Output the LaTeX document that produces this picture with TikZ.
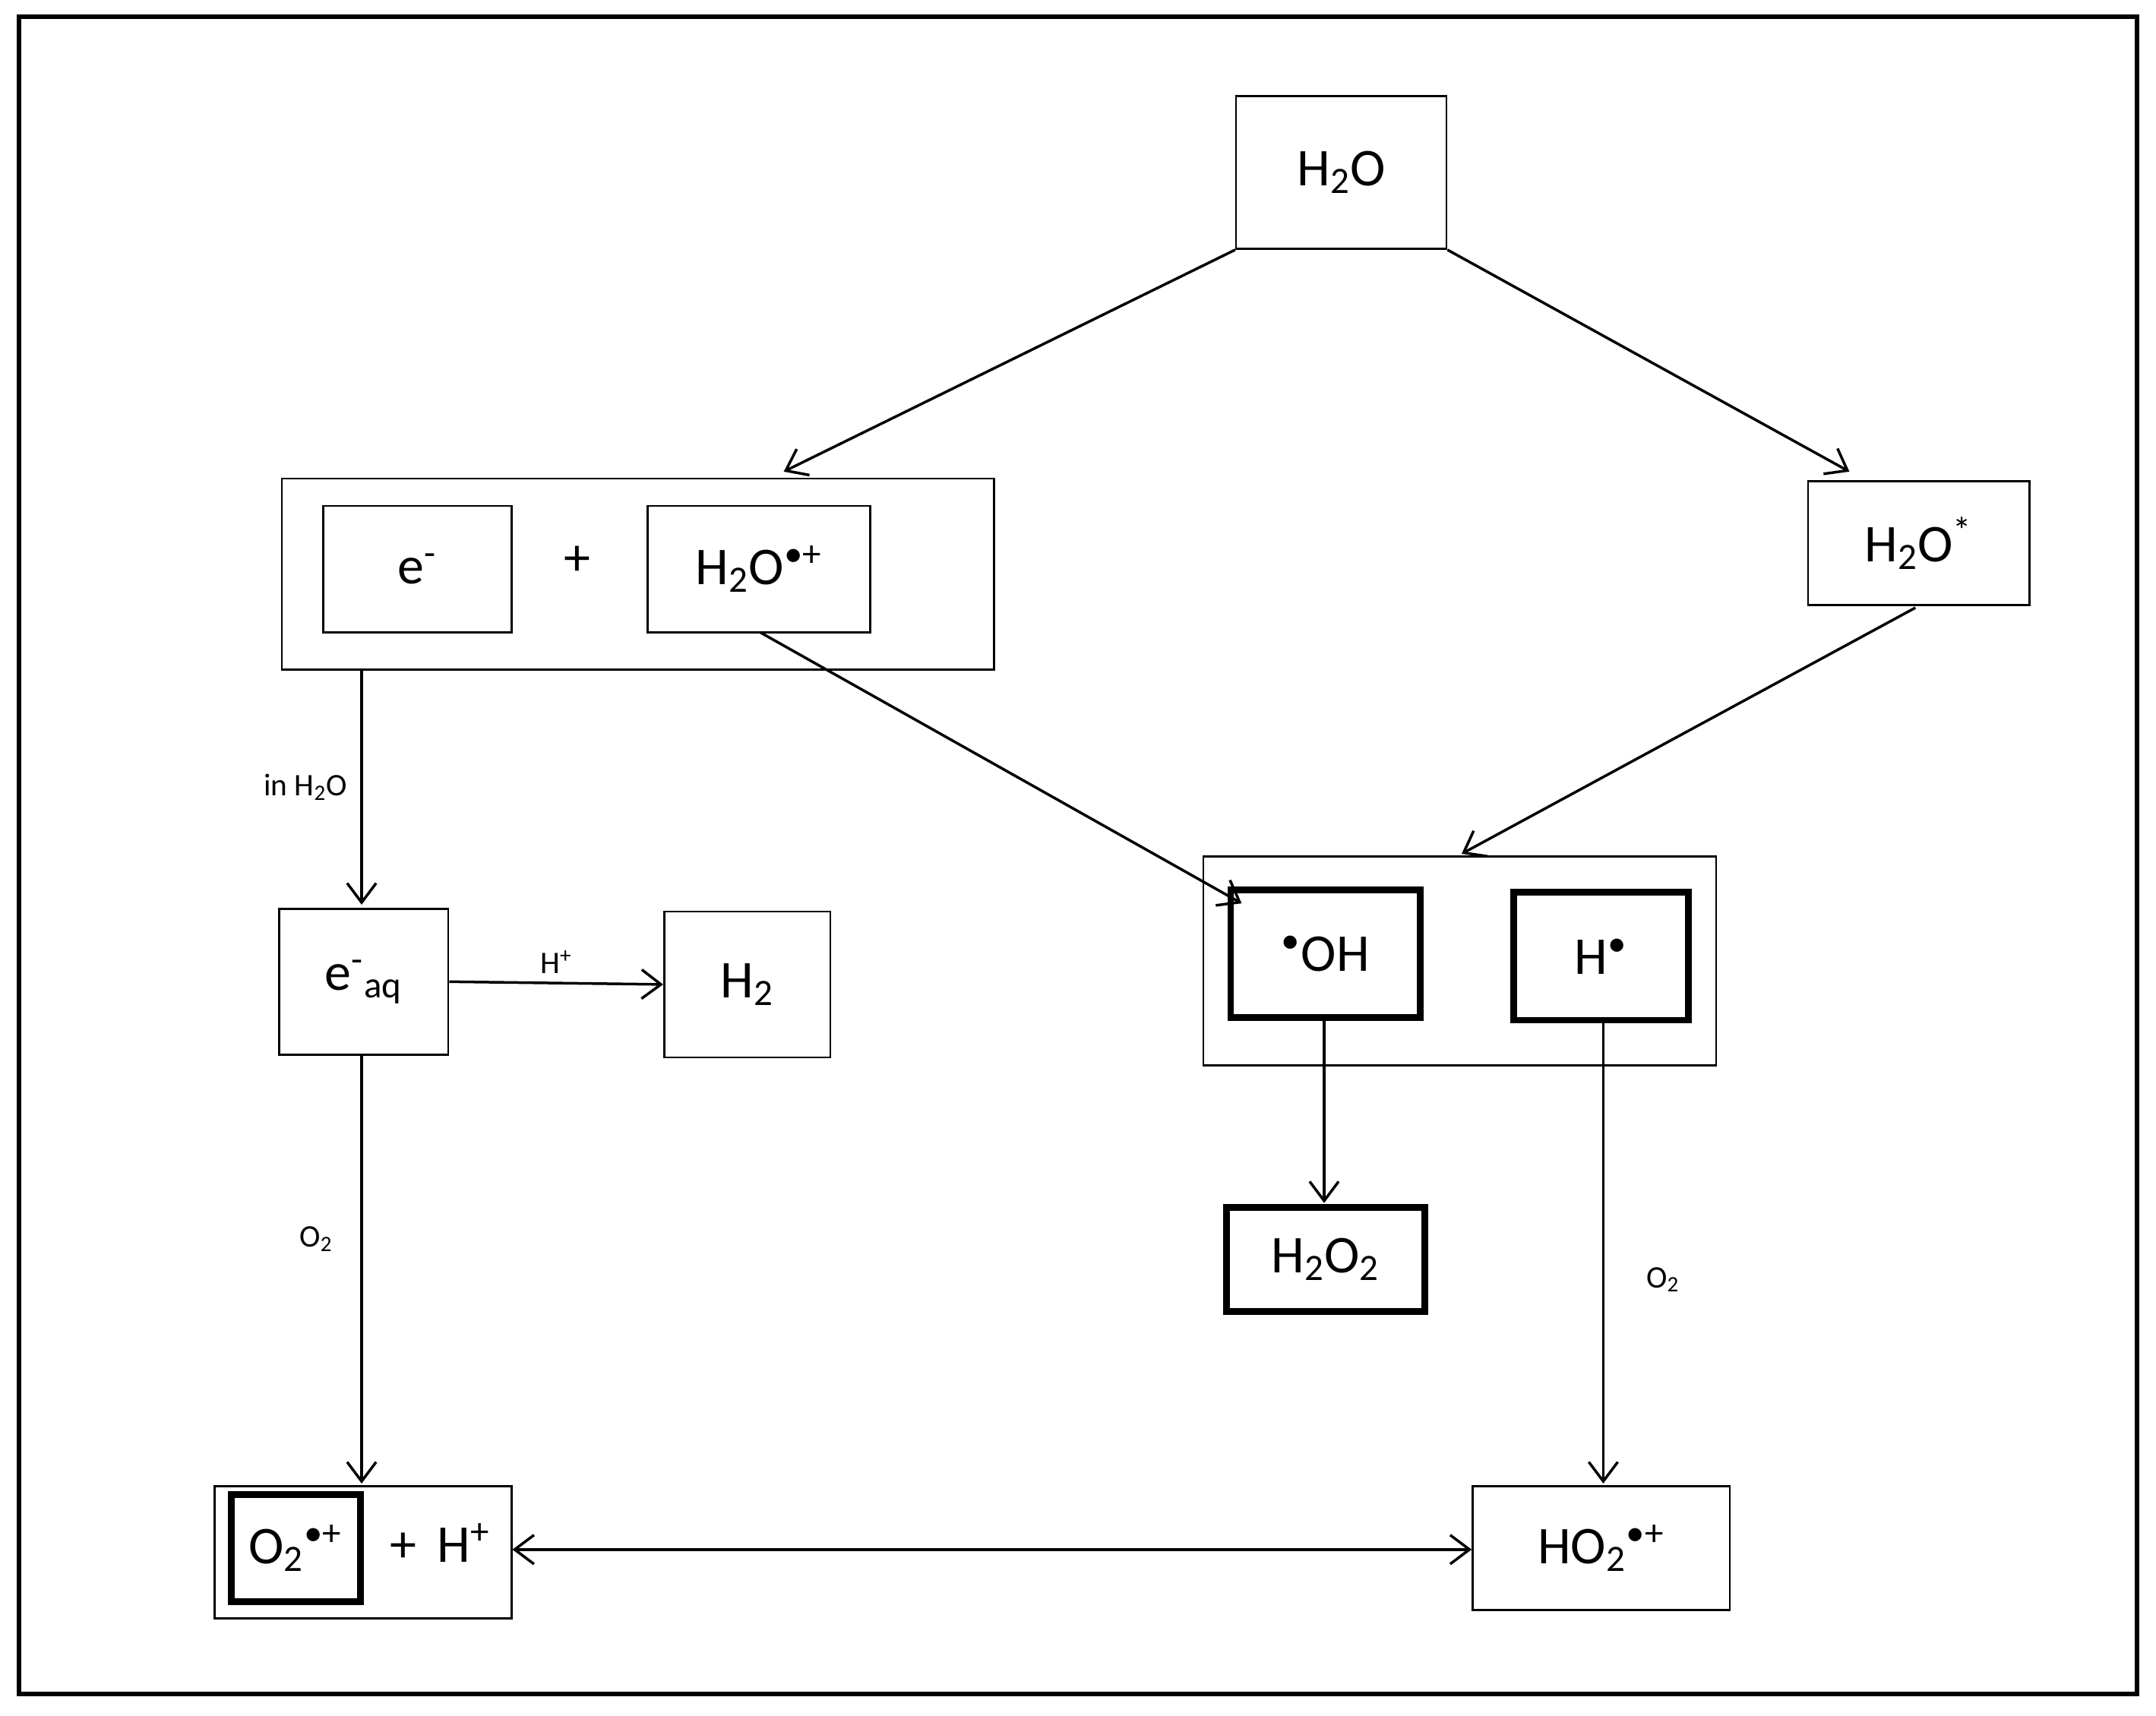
\documentclass[tikz,border=0pt]{standalone}
\usepackage{fontspec}
\setmainfont{Carlito}
\usetikzlibrary{arrows.meta}
\begin{document}
\begin{tikzpicture}[x=0.02cm,y=-0.02cm,
  box/.style={draw,line width=0.8pt,inner sep=0pt,font=\fontsize{22}{26}\selectfont},
  tbox/.style={box,line width=2.8pt},
  lab/.style={font=\fontsize{13}{16}\selectfont},
  arr/.style={line width=1.1pt,-{Straight Barb[length=8pt,width=12pt]}}]
\useasboundingbox (0,0) rectangle (1568,1248);
\draw[line width=1.8pt] (14,12) rectangle (1554,1232);
\node[box,minimum width=3.06cm,minimum height=2.22cm] (h2o) at (975.5,125.5) {H\textsubscript{2}O};
\node[box,minimum width=10.36cm,minimum height=2.78cm] (big) at (464,417.5) {};
\node[box,minimum width=2.74cm,minimum height=1.84cm] (em) at (303.5,414) {e\textsuperscript{-}};
\node[font=\fontsize{22}{26}\selectfont] (plus) at (420,408) {+};
\node[box,minimum width=3.24cm,minimum height=1.84cm] (ion) at (552,414) {H\textsubscript{2}O\textsuperscript{\textbullet+}};
\node[box,minimum width=3.22cm,minimum height=1.8cm] (exc) at (1395.5,395) {H\textsubscript{2}O\textsuperscript{*}};
\node[box,minimum width=7.46cm,minimum height=3.04cm] (grp) at (1061.5,699) {};
\node[tbox,minimum width=2.76cm,minimum height=1.86cm] (oh) at (964,693.5) {\textsuperscript{\textbullet}OH};
\node[tbox,minimum width=2.54cm,minimum height=1.86cm] (hr) at (1164.5,695.5) {H\textsuperscript{\textbullet}};
\node[box,minimum width=2.46cm,minimum height=2.12cm] (eaq) at (264.5,714) {e\textsuperscript{-}\textsubscript{aq}};
\node[box,minimum width=2.42cm,minimum height=2.12cm] (h2) at (543.5,716) {H\textsubscript{2}};
\node[tbox,minimum width=2.88cm,minimum height=1.52cm] (h2o2) at (964,916) {H\textsubscript{2}O\textsubscript{2}};
\node[box,minimum width=4.32cm,minimum height=1.92cm] (bot) at (264,1129) {};
\node[tbox,minimum width=1.88cm,minimum height=1.56cm] (o2) at (215,1126) {O\textsubscript{2}\textsuperscript{\textbullet+}};
\node[font=\fontsize{22}{26}\selectfont] (hp) at (320,1122) {+\, H\textsuperscript{+}};
\node[box,minimum width=3.74cm,minimum height=1.8cm] (ho2) at (1164.5,1126) {HO\textsubscript{2}\textsuperscript{\textbullet+}};
\coordinate (c1) at (570,343);
\coordinate (c2) at (1345,343);
\coordinate (c3) at (553,460);
\coordinate (c4) at (903,657);
\coordinate (c5) at (1393,442);
\coordinate (c6) at (1063,621);
\coordinate (c7) at (263,487);
\coordinate (c8) at (263,658);
\coordinate (c9) at (263,767);
\coordinate (c10) at (263,1079);
\coordinate (c11) at (963,740);
\coordinate (c12) at (963,875);
\coordinate (c13) at (1166,742);
\coordinate (c14) at (1166,1079);
\draw[arr] (h2o.south west) -- (c1);
\draw[arr] (h2o.south east) -- (c2);
\draw[arr] (c3) -- (c4);
\draw[arr] (c5) -- (c6);
\draw[arr] (c7) -- (c8) node[lab,midway,left=2pt] {in H\textsubscript{2}O};
\draw[arr] (eaq.east) -- (h2.west) node[lab,midway,above] {H\textsuperscript{+}};
\draw[arr] (c9) -- (c10) node[lab,pos=0.43,left=8pt] {O\textsubscript{2}};
\draw[arr] (c11) -- (c12);
\draw[arr] (c13) -- (c14) node[lab,pos=0.56,right=14pt] {O\textsubscript{2}};
\draw[line width=1.1pt,{Straight Barb[length=8pt,width=12pt]}-{Straight Barb[length=8pt,width=12pt]}] (bot.east |- 0,1127) -- (ho2.west |- 0,1127);
\end{tikzpicture}
\end{document}
